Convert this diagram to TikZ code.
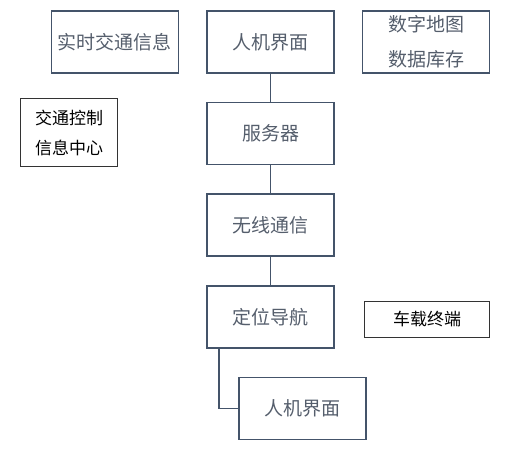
\documentclass[tikz,border=0pt]{standalone}
\usepackage{fontspec}
\usepackage{xcolor}
\usepackage{tikz}
\usetikzlibrary{positioning}
\newfontfamily\cjk{Noto Sans CJK SC}

\definecolor{slate}{RGB}{68,84,106}
\definecolor{slatetext}{RGB}{85,94,108}

\tikzset{
  blockbox/.style={draw=slate, line width=1.6pt, text=slatetext, minimum width=127pt,
    minimum height=62pt, align=center, font=\cjk\fontsize{19}{35}\selectfont, inner sep=0pt},
  plainbox/.style={draw=black!80, line width=1.2pt, text=black, align=center,
    font=\cjk\fontsize{17}{30}\selectfont, inner sep=0pt},
  link/.style={draw=slate, line width=1.6pt}
}

\begin{document}
\begin{tikzpicture}[x=1pt, y=-1pt]
\useasboundingbox (0,0) rectangle (516,449);

% nodes %
\node[blockbox] (hmi) at (270.5,42) {人机界面};
\node[blockbox, left = 27pt of hmi] (rt) {实时交通信息};
\node[blockbox, right = 27pt of hmi] (map) {数字地图\\数据库存};
\node[blockbox, below = 28pt of hmi] (srv) {服务器};
\node[blockbox, below = 28pt of srv] (wl) {无线通信};
\node[blockbox, below = 28pt of wl] (loc) {定位导航};
\node[blockbox] (hmib) at (302.5,408.5) {人机界面};
\node[plainbox, minimum width=97pt, minimum height=68pt] (ctrl) at (69,132.5) {交通控制\\信息中心};
\node[plainbox, minimum width=125pt, minimum height=36pt] (car) at (427,319.5) {车载终端};

% edges %
\draw[link] (hmi) -- (srv);
\draw[link] (srv) -- (wl);
\draw[link] (wl) -- (loc);
\draw[link] ([xshift=13pt]loc.south west) |- (hmib.west);

\end{tikzpicture}
\end{document}
